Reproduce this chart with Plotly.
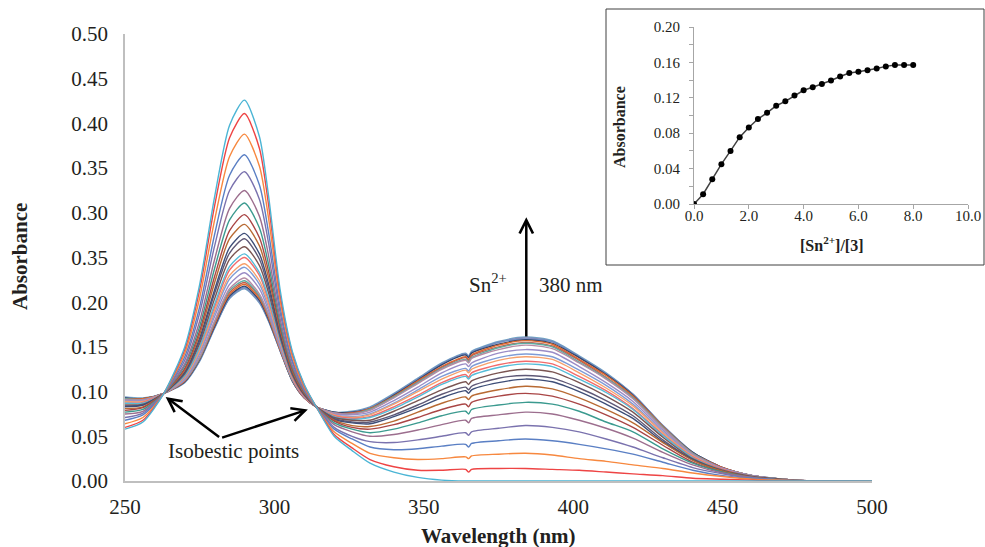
import plotly.graph_objects as go

# ---------------- data ----------------
wavelength_nm = [250, 256, 263, 270, 275, 280, 285, 290, 295, 298, 302, 306, 310, 314, 320, 326,
                 332, 340, 348, 356, 364, 365, 366, 375, 384, 393, 402, 411, 420, 430, 440, 450,
                 460, 470, 480, 500]

# absorbance spectra, in milli-absorbance units
spectrum_00 = [58, 66, 98, 150, 220, 318, 398, 426, 385, 320, 212, 145, 108, 83, 50, 34, 20, 10, 4, 1, 0, 0, 0, 0, 0, 0, 0, 0, 0, 0, 0, 0, 0, 0, 0, 0]
spectrum_01 = [60, 68, 98, 147, 214, 308, 384, 411, 372, 310, 207, 143, 107, 83, 52, 37, 24, 16, 12, 12, 13, 10, 13, 14, 14, 13, 12, 10, 8, 6, 3, 2, 1, 0, 0, 0]
spectrum_02 = [64, 71, 98, 143, 205, 292, 363, 388, 352, 295, 200, 139, 105, 83, 55, 42, 31, 26, 24, 25, 27, 25, 28, 30, 31, 29, 25, 22, 18, 14, 9, 5, 2, 1, 0, 0]
spectrum_03 = [68, 74, 98, 139, 195, 276, 342, 365, 331, 279, 193, 135, 104, 83, 58, 47, 38, 35, 36, 39, 41, 38, 42, 45, 47, 45, 41, 36, 30, 21, 12, 6, 3, 1, 0, 0]
spectrum_04 = [71, 76, 98, 135, 188, 263, 325, 346, 315, 267, 187, 133, 102, 83, 60, 50, 44, 43, 46, 50, 54, 51, 55, 59, 62, 60, 55, 47, 38, 26, 15, 8, 3, 1, 0, 0]
spectrum_05 = [75, 78, 98, 131, 179, 248, 305, 325, 296, 253, 180, 129, 101, 83, 63, 55, 50, 52, 57, 63, 68, 65, 70, 74, 77, 75, 68, 59, 48, 32, 18, 9, 4, 1, 0, 0]
spectrum_06 = [77, 80, 98, 129, 173, 238, 292, 311, 283, 243, 175, 127, 100, 83, 65, 58, 54, 58, 65, 73, 78, 75, 80, 85, 88, 86, 78, 66, 55, 36, 20, 10, 4, 1, 0, 0]
spectrum_07 = [79, 82, 98, 126, 168, 229, 280, 298, 272, 235, 171, 125, 99, 83, 67, 60, 58, 63, 71, 80, 86, 83, 88, 95, 98, 95, 86, 74, 60, 40, 21, 10, 4, 1, 0, 0]
spectrum_08 = [81, 83, 98, 124, 164, 222, 271, 287, 263, 228, 168, 123, 98, 83, 68, 62, 61, 67, 77, 87, 94, 91, 95, 102, 106, 103, 93, 80, 65, 43, 23, 11, 4, 1, 0, 0]
spectrum_09 = [83, 85, 98, 122, 160, 214, 261, 277, 254, 221, 164, 122, 97, 83, 69, 65, 64, 72, 82, 93, 101, 98, 102, 110, 114, 111, 100, 86, 70, 44, 24, 11, 4, 1, 0, 0]
spectrum_10 = [84, 85, 98, 121, 157, 210, 255, 271, 248, 216, 162, 121, 97, 83, 70, 66, 66, 74, 85, 97, 105, 102, 106, 115, 118, 115, 104, 90, 73, 46, 24, 11, 4, 1, 0, 0]
spectrum_11 = [85, 86, 98, 120, 154, 204, 248, 262, 241, 211, 160, 119, 96, 83, 71, 68, 68, 78, 90, 102, 111, 108, 112, 121, 125, 122, 110, 95, 77, 49, 25, 12, 5, 2, 0, 0]
spectrum_12 = [87, 87, 98, 118, 150, 198, 240, 254, 233, 205, 157, 118, 96, 83, 72, 69, 71, 81, 94, 108, 117, 114, 118, 127, 131, 128, 114, 99, 80, 51, 26, 12, 5, 2, 0, 0]
spectrum_13 = [87, 88, 98, 117, 149, 195, 236, 250, 230, 202, 156, 117, 95, 83, 73, 70, 72, 83, 96, 110, 119, 116, 121, 130, 134, 131, 117, 101, 81, 52, 27, 13, 5, 2, 0, 0]
spectrum_14 = [89, 89, 98, 116, 146, 191, 230, 243, 224, 198, 154, 116, 95, 83, 74, 71, 74, 86, 100, 114, 124, 121, 125, 135, 139, 136, 121, 104, 84, 54, 28, 13, 5, 2, 0, 0]
spectrum_15 = [89, 89, 98, 115, 144, 188, 226, 239, 220, 195, 152, 116, 95, 83, 74, 72, 75, 87, 102, 117, 126, 123, 128, 138, 142, 139, 124, 107, 86, 55, 28, 13, 5, 2, 0, 0]
spectrum_16 = [90, 90, 98, 114, 142, 184, 220, 233, 215, 191, 150, 115, 94, 83, 75, 74, 77, 90, 105, 121, 131, 128, 132, 143, 147, 144, 128, 110, 89, 57, 29, 14, 6, 2, 0, 0]
spectrum_17 = [91, 91, 98, 113, 139, 179, 215, 227, 209, 187, 148, 114, 94, 83, 76, 75, 79, 93, 109, 125, 135, 132, 137, 147, 152, 148, 132, 114, 92, 59, 30, 14, 6, 2, 0, 0]
spectrum_18 = [92, 91, 98, 113, 138, 178, 213, 224, 207, 186, 148, 113, 94, 83, 76, 75, 80, 94, 110, 126, 136, 133, 138, 149, 154, 150, 133, 115, 93, 60, 31, 14, 6, 2, 0, 0]
spectrum_19 = [92, 91, 98, 112, 138, 176, 211, 222, 206, 184, 147, 113, 93, 83, 76, 76, 80, 94, 111, 127, 138, 135, 140, 150, 155, 151, 135, 116, 94, 60, 31, 15, 6, 2, 0, 0]
spectrum_20 = [92, 92, 98, 112, 137, 175, 209, 220, 204, 183, 146, 113, 93, 83, 76, 76, 81, 95, 112, 128, 139, 136, 141, 152, 157, 153, 136, 118, 95, 61, 31, 15, 6, 2, 0, 0]
spectrum_21 = [93, 92, 98, 111, 136, 173, 207, 218, 202, 181, 146, 112, 93, 83, 77, 77, 81, 96, 113, 130, 141, 138, 143, 153, 158, 154, 138, 119, 96, 61, 32, 15, 6, 2, 0, 0]
spectrum_22 = [93, 92, 98, 111, 135, 172, 205, 217, 201, 180, 145, 112, 93, 83, 77, 77, 82, 97, 114, 131, 142, 139, 144, 155, 159, 156, 139, 120, 97, 62, 32, 15, 6, 2, 0, 0]
spectrum_23 = [93, 92, 98, 111, 135, 172, 205, 216, 200, 180, 145, 112, 93, 83, 77, 77, 82, 97, 114, 131, 142, 139, 144, 155, 160, 156, 139, 120, 97, 62, 32, 15, 6, 2, 0, 0]
spectrum_24 = [94, 93, 98, 110, 134, 171, 204, 215, 199, 179, 145, 112, 93, 83, 77, 78, 83, 98, 115, 132, 143, 140, 145, 156, 161, 157, 140, 121, 97, 62, 32, 15, 6, 2, 0, 0]

spectra = [spectrum_00, spectrum_01, spectrum_02, spectrum_03, spectrum_04, spectrum_05,
           spectrum_06, spectrum_07, spectrum_08, spectrum_09, spectrum_10, spectrum_11,
           spectrum_12, spectrum_13, spectrum_14, spectrum_15, spectrum_16, spectrum_17,
           spectrum_18, spectrum_19, spectrum_20, spectrum_21, spectrum_22, spectrum_23,
           spectrum_24]

spectrum_colors = ["#4BB5D5", "#EE4444", "#F7883F", "#5A7FC4", "#7A72AE", "#9C6E8E",
                   "#3B9A8F", "#A94545", "#B86A33", "#3E4E78", "#5E5876", "#7B5552",
                   "#55BCD8", "#F26B6B", "#F7A06B", "#7F9CD6", "#9A8CC6", "#B58BA5",
                   "#5FADA2", "#C4604D", "#E0692B", "#33466E", "#6E8FC2", "#8C86B5",
                   "#6FA4C6"]

# main y tick labels (as printed on the original, including its "0.35" at 0.25)
main_y_tickvals = [0.0, 0.05, 0.10, 0.15, 0.20, 0.25, 0.30, 0.35, 0.40, 0.45, 0.50]
main_y_ticktext = ["0.00", "0.05", "0.10", "0.15", "0.20", "0.35", "0.30", "0.35", "0.40", "0.45", "0.50"]
main_x_tickvals = [250, 300, 350, 400, 450, 500]

# inset titration data
ratio_sn_3 = [0.0, 0.333, 0.667, 1.0, 1.333, 1.667, 2.0, 2.333, 2.667, 3.0, 3.333, 3.667, 4.0,
              4.333, 4.667, 5.0, 5.333, 5.667, 6.0, 6.333, 6.667, 7.0, 7.333, 7.667, 8.0]
absorbance_380 = [0.000, 0.011, 0.028, 0.045, 0.060, 0.0755, 0.0865, 0.096, 0.103, 0.111,
                  0.116, 0.1225, 0.1285, 0.132, 0.1355, 0.1395, 0.144, 0.148, 0.1495, 0.151,
                  0.153, 0.1555, 0.157, 0.157, 0.157]
inset_x_tickvals = [0, 2, 4, 6, 8, 10]
inset_x_ticktext = ["0.0", "2.0", "4.0", "6.0", "8.0", "10.0"]
inset_y_tickvals = [0.00, 0.04, 0.08, 0.12, 0.16, 0.20]
inset_y_ticktext = ["0.00", "0.04", "0.08", "0.12", "0.16", "0.20"]

# ---------------- figure ----------------
W, H = 985, 547
OFF = 0  # page body margin is removed below, so the figure starts at the window corner
FONT = "Liberation Serif, Times New Roman, serif"


def fx(px):
    return (px - OFF) / W


def fy(py):
    return (H - (py - OFF)) / H


fig = go.Figure()

for k in range(len(spectra) - 1, -1, -1):
    fig.add_trace(go.Scatter(
        x=wavelength_nm, y=[v / 1000 for v in spectra[k]], mode="lines",
        line=dict(color=spectrum_colors[k], width=1.4, shape="spline", smoothing=0.7),
        xaxis="x", yaxis="y", showlegend=False, hoverinfo="skip"))

fig.add_trace(go.Scatter(
    x=ratio_sn_3, y=absorbance_380, mode="lines+markers",
    line=dict(color="#404040", width=1.5),
    marker=dict(color="black", size=6),
    xaxis="x2", yaxis="y2", showlegend=False))

axis_gray = "#BFBFBF"
fig.update_layout(
    width=W, height=H,
    margin=dict(l=0, r=0, t=0, b=0),
    paper_bgcolor="white", plot_bgcolor="white",
    font=dict(family=FONT, color="#231F20"),
    xaxis=dict(domain=[fx(125), fx(872)], range=[250, 500], tickvals=main_x_tickvals,
               showgrid=False, zeroline=False, showline=True, linecolor=axis_gray, linewidth=1.5,
               ticks="", tickfont=dict(size=21, family=FONT), ticklabelstandoff=6,
               automargin=False, anchor="y"),
    yaxis=dict(domain=[fy(481), fy(34)], range=[0, 0.5], tickvals=main_y_tickvals,
               ticktext=main_y_ticktext,
               showgrid=False, zeroline=False, showline=True, linecolor=axis_gray, linewidth=1.5,
               ticks="", tickfont=dict(size=21, family=FONT), ticklabelstandoff=11,
               automargin=False, anchor="x"),
    xaxis2=dict(domain=[fx(694), fx(968)], range=[0, 10], tickvals=inset_x_tickvals,
                ticktext=inset_x_ticktext,
                showgrid=False, zeroline=False, showline=True, linecolor="#A6A6A6", linewidth=1,
                ticks="outside", ticklen=4, tickcolor="#A6A6A6", ticklabelstandoff=-6,
                tickfont=dict(size=15, family=FONT), automargin=False, anchor="y2"),
    yaxis2=dict(domain=[fy(204), fy(27)], range=[0, 0.2], tickvals=inset_y_tickvals,
                ticktext=inset_y_ticktext,
                showgrid=False, zeroline=False, showline=True, linecolor="#A6A6A6", linewidth=1,
                ticks="outside", ticklen=4, tickcolor="#A6A6A6", ticklabelstandoff=6,
                minor=dict(dtick=0.02, ticks="outside", ticklen=4, tickcolor="#A6A6A6"),
                tickfont=dict(size=15, family=FONT), automargin=False, anchor="x2"),
)

# inset frame
fig.add_shape(type="rect", xref="paper", yref="paper",
              x0=fx(606), x1=fx(984), y0=fy(265), y1=fy(9),
              line=dict(color="#404040", width=1), fillcolor="white", layer="below")

anns = []
txt = dict(showarrow=False, xanchor="center", yanchor="middle")
# axis titles
anns.append(dict(text="<b>Wavelength (nm)</b>", xref="paper", yref="paper", x=fx(498), y=fy(536),
                 font=dict(size=21, family=FONT), **txt))
anns.append(dict(text="<b>Absorbance</b>", xref="paper", yref="paper", x=fx(20), y=fy(257),
                 textangle=-90, font=dict(size=21, family=FONT), **txt))
anns.append(dict(text="<b>Absorbance</b>", xref="paper", yref="paper", x=fx(620), y=fy(127),
                 textangle=-90, font=dict(size=16, family=FONT), **txt))
anns.append(dict(text="<b>[Sn<sup>2+</sup>]/[3]</b>", xref="paper", yref="paper", x=fx(832), y=fy(244),
                 font=dict(size=16, family=FONT), **txt))
# text labels
anns.append(dict(text="Isobestic points", xref="paper", yref="paper", x=fx(233), y=fy(451),
                 font=dict(size=21, family=FONT), **txt))
anns.append(dict(text="Sn<sup>2+</sup>", xref="paper", yref="paper", x=fx(488), y=fy(283),
                 font=dict(size=21, family=FONT), **txt))
anns.append(dict(text="380 nm", xref="paper", yref="paper", x=fx(571), y=fy(285),
                 font=dict(size=21, family=FONT), **txt))
# arrows
arrow_style = dict(text="", showarrow=True, arrowhead=5, arrowsize=1.05, arrowwidth=2.5,
                   arrowcolor="black", xref="x", yref="y", axref="x", ayref="y", standoff=0)
anns.append(dict(x=384.3, y=0.295, ax=384.3, ay=0.160, **arrow_style))
anns.append(dict(x=263.6, y=0.094, ax=282.0, ay=0.048, **arrow_style))
anns.append(dict(x=311.2, y=0.080, ax=282.0, ay=0.048, **arrow_style))
fig.update_layout(annotations=anns)

fig.write_html(
    "out.html",
    config={"displayModeBar": False},
    post_script="document.body.style.margin='0px';document.body.style.overflow='hidden';",
)
